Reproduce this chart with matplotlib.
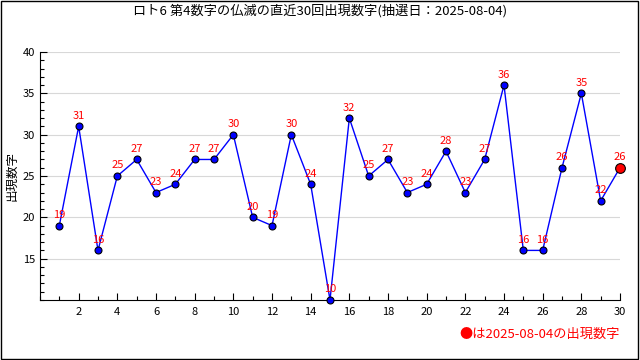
import matplotlib
matplotlib.use("Agg")
import matplotlib.pyplot as plt
from matplotlib.ticker import MultipleLocator

plt.rcParams['font.family'] = ['Noto Sans CJK JP', 'DejaVu Sans']

draws = list(range(1, 31))
numbers = [19, 31, 16, 25, 27, 23, 24, 27, 27, 30,
           20, 19, 30, 24, 10, 32, 25, 27, 23, 24,
           28, 23, 27, 36, 16, 16, 26, 35, 22, 26]
title = "ロト6 第4数字の仏滅の直近30回出現数字(抽選日：2025-08-04)"
note = "●は2025-08-04の出現数字"

fig = plt.figure(figsize=(6.4, 3.6), dpi=100)
ax = fig.add_axes([40/640, 1 - 300/360, (620 - 40)/640, (300 - 52)/360])

# frame round the whole picture
fig.patches.append(plt.Rectangle((0.001, 0.002), 0.996, 0.995, transform=fig.transFigure,
                                 fill=False, edgecolor='black', lw=1.0))

ax.plot(draws, numbers, color='blue', lw=1, zorder=3)
ax.plot(draws[:-1], numbers[:-1], 'o', ms=5, mfc='blue', mec='black', mew=0.8,
        zorder=4, clip_on=False)
ax.plot(draws[-1:], numbers[-1:], 'o', ms=7, mfc='red', mec='black', mew=0.8,
        zorder=5, clip_on=False)

for x, y in zip(draws, numbers):
    ax.annotate(str(y), (x, y), xytext=(0, 4), textcoords='offset points',
                ha='center', va='bottom', color='red', fontsize=8, zorder=6)

ax.set_xlim(0, 30)
ax.set_ylim(10, 40)
ax.xaxis.set_minor_locator(MultipleLocator(1))
ax.yaxis.set_minor_locator(MultipleLocator(1))
ax.set_xticks(range(2, 31, 2))
ax.set_yticks(range(15, 41, 5))
ax.tick_params(axis='both', which='major', direction='in', length=5, labelsize=8, width=0.8)
ax.tick_params(axis='both', which='minor', direction='in', length=3, width=0.8)
ax.tick_params(axis='x', pad=5)
ax.grid(axis='y', which='major', color='#d8d8d8', lw=0.8)
ax.set_axisbelow(True)
for s in ['top', 'right']:
    ax.spines[s].set_visible(False)

ax.set_ylabel("出現数字", fontsize=9, labelpad=3)
fig.text(0.5, 1 - 11/360, title, ha='center', va='center', fontsize=9.5)
fig.text(620/640, 1 - 334/360, note, ha='right', va='center', fontsize=9.5, color='red')

fig.savefig("out.png", dpi=100)
